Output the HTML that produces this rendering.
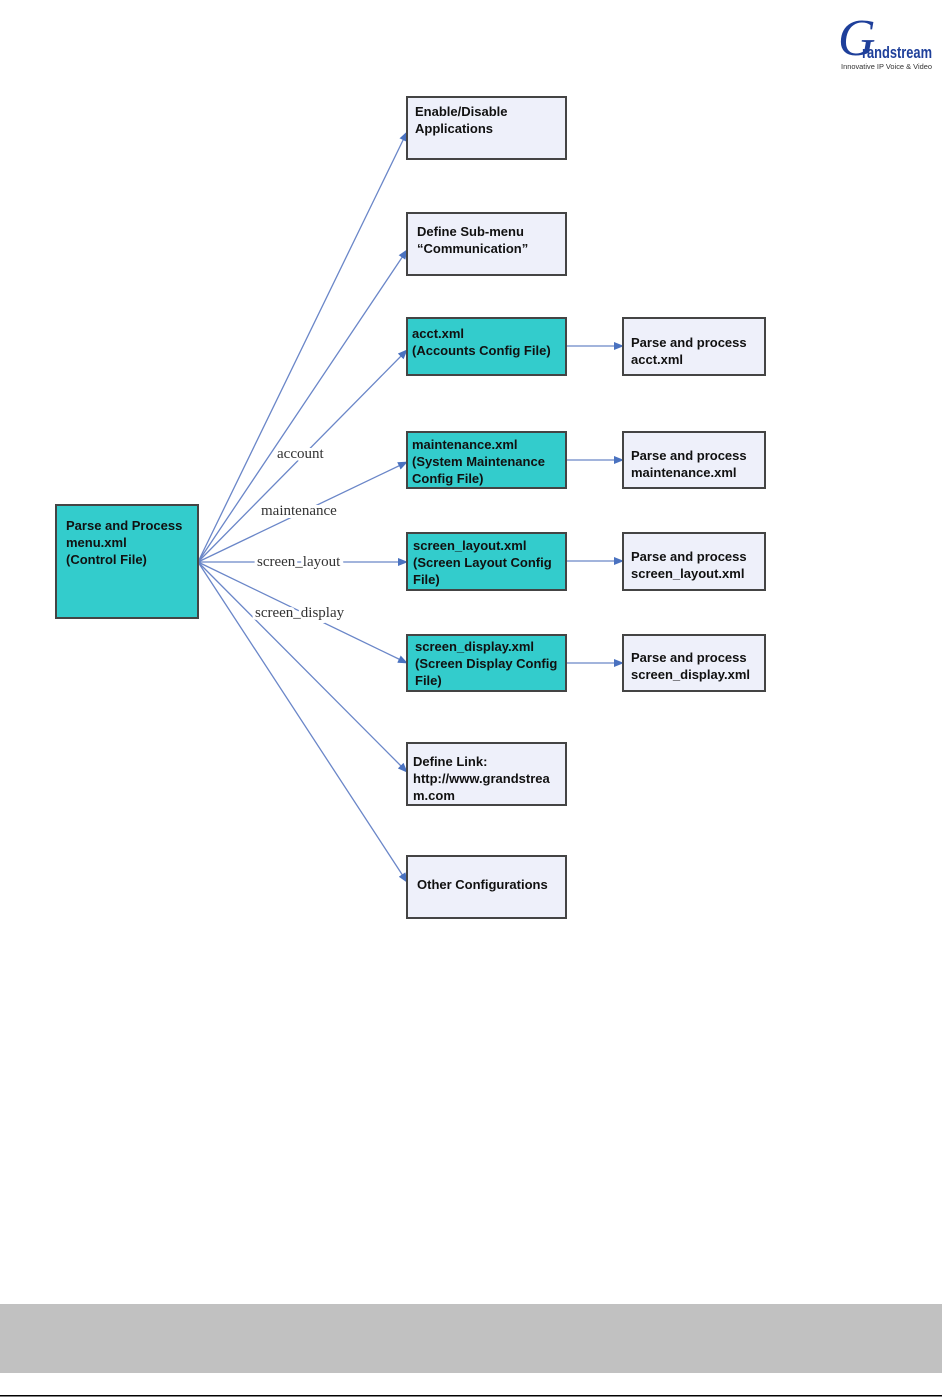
<!DOCTYPE html>
<html><head><meta charset="utf-8"><style>
html,body{margin:0;padding:0;background:#fff;}
body{width:942px;height:1397px;position:relative;overflow:hidden;}
svg{position:absolute;left:0;top:0;}
.b{font-family:"Liberation Sans",sans-serif;font-weight:bold;font-size:13px;fill:#111;}
.l{font-family:"Liberation Serif",serif;font-size:15px;fill:#333;stroke:#fff;stroke-width:6px;paint-order:stroke;}
</style></head><body>
<svg width="942" height="1397" viewBox="0 0 942 1397">
<defs><marker id="a" markerWidth="10" markerHeight="8" refX="9" refY="4" orient="auto" markerUnits="userSpaceOnUse"><path d="M0,0 L10,4 L0,8 z" fill="#4a72c0"/></marker></defs>
<g stroke="#6a86c8" stroke-width="1.3" fill="none" marker-end="url(#a)">
<line x1="198" y1="562" x2="407" y2="132"/>
<line x1="198" y1="562" x2="407" y2="250"/>
<line x1="198" y1="562" x2="407" y2="350"/>
<line x1="198" y1="562" x2="407" y2="462"/>
<line x1="198" y1="562" x2="407" y2="562"/>
<line x1="198" y1="562" x2="407" y2="663"/>
<line x1="198" y1="562" x2="407" y2="772"/>
<line x1="198" y1="562" x2="407" y2="882"/>
<line x1="566" y1="346" x2="623" y2="346"/>
<line x1="566" y1="460" x2="623" y2="460"/>
<line x1="566" y1="561" x2="623" y2="561"/>
<line x1="566" y1="663" x2="623" y2="663"/>
</g>
<text class="l" x="277" y="458">account</text>
<text class="l" x="261" y="515">maintenance</text>
<text class="l" x="257" y="566">screen_layout</text>
<text class="l" x="255" y="617">screen_display</text>
<g stroke="#444" stroke-width="2">
<rect x="56" y="505" width="142" height="113" fill="#33cccc"/>
<rect x="407" y="97" width="159" height="62" fill="#eef0fa"/>
<rect x="407" y="213" width="159" height="62" fill="#eef0fa"/>
<rect x="407" y="318" width="159" height="57" fill="#33cccc"/>
<rect x="407" y="432" width="159" height="56" fill="#33cccc"/>
<rect x="407" y="533" width="159" height="57" fill="#33cccc"/>
<rect x="407" y="635" width="159" height="56" fill="#33cccc"/>
<rect x="407" y="743" width="159" height="62" fill="#eef0fa"/>
<rect x="407" y="856" width="159" height="62" fill="#eef0fa"/>
<rect x="623" y="318" width="142" height="57" fill="#eef0fa"/>
<rect x="623" y="432" width="142" height="56" fill="#eef0fa"/>
<rect x="623" y="533" width="142" height="57" fill="#eef0fa"/>
<rect x="623" y="635" width="142" height="56" fill="#eef0fa"/>
</g>
<text class="b" x="66" y="530">Parse and Process</text>
<text class="b" x="66" y="547">menu.xml</text>
<text class="b" x="66" y="564">(Control File)</text>
<text class="b" x="415" y="116">Enable/Disable</text>
<text class="b" x="415" y="133">Applications</text>
<text class="b" x="417" y="236">Define Sub-menu</text>
<text class="b" x="417" y="253">“Communication”</text>
<text class="b" x="412" y="338">acct.xml</text>
<text class="b" x="412" y="355">(Accounts Config File)</text>
<text class="b" x="412" y="449">maintenance.xml</text>
<text class="b" x="412" y="466">(System Maintenance</text>
<text class="b" x="412" y="483">Config File)</text>
<text class="b" x="413" y="550">screen_layout.xml</text>
<text class="b" x="413" y="567">(Screen Layout Config</text>
<text class="b" x="413" y="584">File)</text>
<text class="b" x="415" y="651">screen_display.xml</text>
<text class="b" x="415" y="668">(Screen Display Config</text>
<text class="b" x="415" y="685">File)</text>
<text class="b" x="413" y="766">Define Link:</text>
<text class="b" x="413" y="783">http://www.grandstrea</text>
<text class="b" x="413" y="800">m.com</text>
<text class="b" x="417" y="889">Other Configurations</text>
<text class="b" x="631" y="347">Parse and process</text>
<text class="b" x="631" y="364">acct.xml</text>
<text class="b" x="631" y="460">Parse and process</text>
<text class="b" x="631" y="477">maintenance.xml</text>
<text class="b" x="631" y="561">Parse and process</text>
<text class="b" x="631" y="578">screen_layout.xml</text>
<text class="b" x="631" y="662">Parse and process</text>
<text class="b" x="631" y="679">screen_display.xml</text>
<text x="838" y="55" font-family="Liberation Serif,serif" font-style="italic" font-size="52" fill="#1e3f9a">G</text>
<text x="862" y="58" font-family="Liberation Sans,sans-serif" font-weight="bold" font-size="17" fill="#1e3f9a" textLength="70" lengthAdjust="spacingAndGlyphs">randstream</text>
<text x="841" y="69" font-family="Liberation Sans,sans-serif" font-size="7" fill="#333" textLength="91" lengthAdjust="spacingAndGlyphs">Innovative IP Voice &amp; Video</text>
<rect x="0" y="1304" width="942" height="69" fill="#c1c1c1"/>
<rect x="0" y="1395" width="942" height="1.5" fill="#000"/>
</svg>
</body></html>
